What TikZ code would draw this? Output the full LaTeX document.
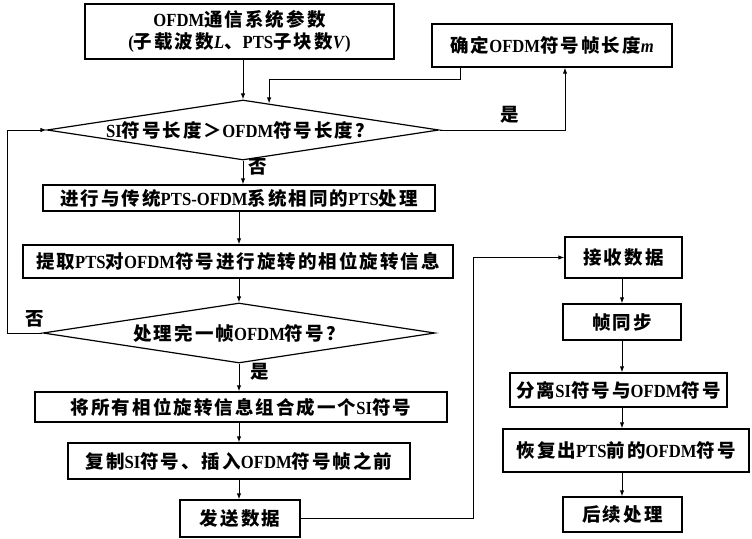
\documentclass[tikz,border=0pt]{standalone}
\usepackage{fontspec}
\setmainfont{Liberation Serif}[FakeStretch=0.9]
\newfontfamily\zhf{Noto Sans CJK SC}[LetterSpace=11]
\newcommand\zh[1]{{\zhf\bfseries #1}}
\usetikzlibrary{shapes.geometric,arrows.meta,calc}
\begin{document}
\begin{tikzpicture}[x=1pt,y=-1pt,
  font=\fontsize{18.5}{22}\selectfont\bfseries,
  box/.style={draw,line width=1.4pt,inner sep=0pt,align=center},
  dia/.style={diamond,draw,line width=1.2pt,inner sep=0pt},
  arr/.style={line width=1pt,-{Latex[length=6pt,width=4.5pt]}},
  lbl/.style={inner sep=0pt}]
\useasboundingbox (0,0) rectangle (752,538);

% left column
\node[box,minimum width=309pt,minimum height=55pt] (b1) at (239.5,31.5)
  {OFDM\zh{通信系统参数}\\(\zh{子载波数}\textit{L}\zh{、}PTS\zh{子块数}\textit{V})};
\node[box,minimum width=240pt,minimum height=43pt] (b2) at (552,45.5)
  {\zh{确定}OFDM\zh{符号帧长度}\textit{m}};
\node[dia,minimum width=392pt,minimum height=60pt] (d1) at (243,130) {};
\node[lbl] (d1t) at (240,130) {SI\zh{符号长度＞}OFDM\zh{符号长度？}};
\node[box,minimum width=392pt,minimum height=26pt] (b3) at (239,198)
  {\zh{进行与传统}PTS-OFDM\zh{系统相同的}PTS\zh{处理}};
\node[box,minimum width=430pt,minimum height=33pt] (b4) at (238,261.5)
  {\zh{提取}PTS\zh{对}OFDM\zh{符号进行旋转的相位旋转信息}};
\node[dia,minimum width=392pt,minimum height=60pt] (d2) at (239,333) {};
\node[lbl] (d2t) at (239,333) {\zh{处理完一帧}OFDM\zh{符号？}};
\node[box,minimum width=412pt,minimum height=30pt] (b5) at (241,407)
  {\zh{将所有相位旋转信息组合成一个}SI\zh{符号}};
\node[box,minimum width=342pt,minimum height=36pt] (b6) at (239,461)
  {\zh{复制}SI\zh{符号、插入}OFDM\zh{符号帧之前}};
\node[box,minimum width=120pt,minimum height=37pt] (b7) at (240,518.5)
  {\zh{发送数据}};

% right column
\node[box,minimum width=117pt,minimum height=41pt] (b8) at (623.5,257.5) {\zh{接收数据}};
\node[box,minimum width=118pt,minimum height=36pt] (b9) at (622,322) {\zh{帧同步}};
\node[box,minimum width=217pt,minimum height=34pt] (b10) at (618.5,390)
  {\zh{分离}SI\zh{符号与}OFDM\zh{符号}};
\node[box,minimum width=246pt,minimum height=43pt] (b11) at (626,450.5)
  {\zh{恢复出}PTS\zh{前的}OFDM\zh{符号}};
\node[box,minimum width=119pt,minimum height=35pt] (b12) at (622.5,514.5) {\zh{后续处理}};

% labels
\node[lbl] (y1) at (510,115) {\zh{是}};
\node[lbl] (n1) at (258,167) {\zh{否}};
\node[lbl] (n2) at (35,319) {\zh{否}};
\node[lbl] (y2) at (260,372) {\zh{是}};

% connectors
\coordinate (d1in) at ($(d1.north)!0.1327!(d1.east)$);
\coordinate (rc) at (622,0);
\draw[arr] (d1.north |- b1.south) -- (d1.north);
\draw[arr] ([xshift=-92pt]b2.south) -- ++(0,12) -| (d1in);
\draw[arr] (d1.east) -| ([xshift=13pt]b2.south);
\draw[arr] (d1.south) -- (d1.south |- b3.north);
\draw[arr] (b3.south -| d2.north) -- (d2.north |- b4.north);
\draw[arr] (d2.north |- b4.south) -- (d2.north);
\draw[arr] (d2.south) -- (d2.south |- b5.north);
\draw[arr] (b5.south -| d2.south) -- (d2.south |- b6.north);
\draw[arr] (b6.south -| d2.south) -- (d2.south |- b7.north);
\draw[arr] (d2.west) -- ++(-35,0) |- (d1.west);
\draw[arr] (b7.east) -- ++(173,0) |- (b8.west);
\draw[arr] (b8.south -| rc) -- (rc |- b9.north);
\draw[arr] (b9.south -| rc) -- (rc |- b10.north);
\draw[arr] (b10.south -| rc) -- (rc |- b11.north);
\draw[arr] (b11.south -| rc) -- (rc |- b12.north);
\end{tikzpicture}
\end{document}
